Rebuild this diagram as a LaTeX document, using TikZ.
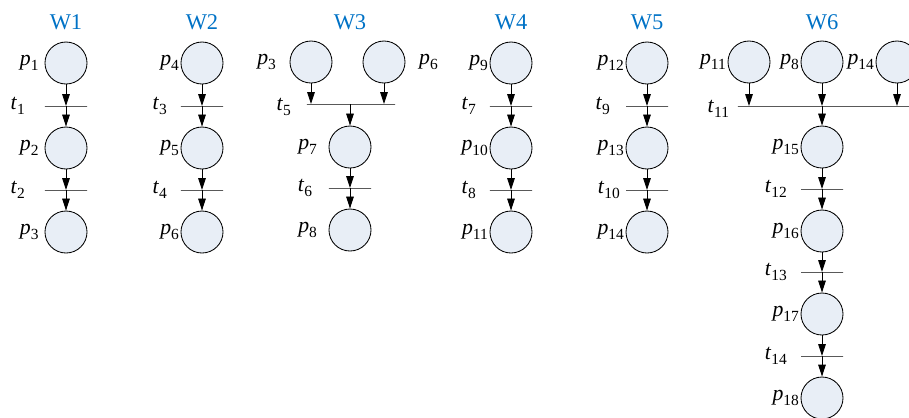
\documentclass[tikz,border=0pt]{standalone}
\usepackage{fontspec}
\setmainfont{Liberation Serif}
\usetikzlibrary{arrows.meta}
\definecolor{placefill}{RGB}{232,238,246}
\definecolor{titleblue}{RGB}{0,114,198}
\newcommand{\plabel}[2]{\textit{#1}\raisebox{-0.45ex}{\fontsize{11}{12}\selectfont #2}}
\tikzset{
	place/.style={circle, draw, fill=placefill, minimum size=1.05cm, inner sep=0pt, line width=0.6pt},
	bar/.style={draw, rectangle, minimum height=0pt, minimum width=1.05cm, inner sep=0pt, line width=0.6pt},
	flow/.style={-{Triangle[length=0.3cm, width=0.19cm]}, line width=0.6pt},
	wtitle/.style={text=titleblue, font=\fontsize{16}{18}\selectfont},
	every label/.style={font=\fontsize{15.5}{17}\selectfont, inner sep=1pt},
}

\begin{document}
\begin{tikzpicture}[x=0.025cm, y=-0.025cm]
			%%%%% START %%%%%
			\useasboundingbox (0,0) rectangle (909,417);
			
			% W1
			\node[wtitle] (w1) at (66,22) {W1};
			\node[place, label={[label distance=0.11cm]left:\plabel{p}{1}}] (p1) at (66,63) {};
			\node[bar, label={[label distance=0.45cm]left:\plabel{t}{1}}] (t1) at (66,106) {};
			\node[place, label={[label distance=0.11cm]left:\plabel{p}{2}}] (p2) at (66,148) {};
			\node[bar, label={[label distance=0.45cm]left:\plabel{t}{2}}] (t2) at (66,190) {};
			\node[place, label={[label distance=0.11cm]left:\plabel{p}{3}}] (p3) at (66,232) {};
			\draw[flow] (p1) -- (p1 |- t1);
			\draw[flow] (t1) -- (p2);
			\draw[flow] (p2) -- (p2 |- t2);
			\draw[flow] (t2) -- (p3);
			
			% W2
			\node[wtitle] (w2) at (202,22) {W2};
			\node[place, label={left:\plabel{p}{4}}] (p4) at (202,63) {};
			\node[bar, label={[label distance=0.3cm]left:\plabel{t}{3}}] (t3) at (202,106) {};
			\node[place, label={left:\plabel{p}{5}}] (p5) at (202,148) {};
			\node[bar, label={[label distance=0.3cm]left:\plabel{t}{4}}] (t4) at (202,190) {};
			\node[place, label={left:\plabel{p}{6}}] (p6) at (202,232) {};
			\draw[flow] (p4) -- (p4 |- t3);
			\draw[flow] (t3) -- (p5);
			\draw[flow] (p5) -- (p5 |- t4);
			\draw[flow] (t4) -- (p6);
			
			% W3
			\node[wtitle] (w3) at (350,22) {W3};
			\node[place, label={[label distance=0.3cm]left:\plabel{p}{3}}] (p3b) at (311,62) {};
			\node[place, label={[label distance=0.3cm]right:\plabel{p}{6}}] (p6b) at (384,62) {};
			\node[bar, minimum width=2.2cm, label={[label distance=0.35cm, yshift=-2pt]left:\plabel{t}{5}}] (t5) at (351,104) {};
			\node[place, label={[label distance=0.25cm]left:\plabel{p}{7}}] (p7) at (350,147) {};
			\node[bar, label={[label distance=0.37cm]left:\plabel{t}{6}}] (t6) at (350,188) {};
			\node[place, label={[label distance=0.25cm]left:\plabel{p}{8}}] (p8) at (350,230) {};
			\draw[flow] (p3b) -- (p3b |- t5);
			\draw[flow] (p6b) -- (p6b |- t5);
			\draw[flow] (p7 |- t5) -- (p7);
			\draw[flow] (p7) -- (p7 |- t6);
			\draw[flow] (t6) -- (p8);
			
			% W4
			\node[wtitle] (w4) at (511,22) {W4};
			\node[place, label={left:\plabel{p}{9}}] (p9) at (511,63) {};
			\node[bar, label={[label distance=0.3cm]left:\plabel{t}{7}}] (t7) at (511,106) {};
			\node[place, label={left:\plabel{p}{10}}] (p10) at (511,148) {};
			\node[bar, label={[label distance=0.3cm]left:\plabel{t}{8}}] (t8) at (511,190) {};
			\node[place, label={left:\plabel{p}{11}}] (p11) at (511,232) {};
			\draw[flow] (p9) -- (p9 |- t7);
			\draw[flow] (t7) -- (p10);
			\draw[flow] (p10) -- (p10 |- t8);
			\draw[flow] (t8) -- (p11);
			
			% W5
			\node[wtitle] (w5) at (647,22) {W5};
			\node[place, label={left:\plabel{p}{12}}] (p12) at (647,63) {};
			\node[bar, label={[label distance=0.35cm]left:\plabel{t}{9}}] (t9) at (647,106) {};
			\node[place, label={left:\plabel{p}{13}}] (p13) at (647,148) {};
			\node[bar, label={[label distance=0.1cm]left:\plabel{t}{10}}] (t10) at (647,190) {};
			\node[place, label={left:\plabel{p}{14}}] (p14) at (647,232) {};
			\draw[flow] (p12) -- (p12 |- t9);
			\draw[flow] (t9) -- (p13);
			\draw[flow] (p13) -- (p13 |- t10);
			\draw[flow] (t10) -- (p14);
			
			% W6
			\node[wtitle] (w6) at (822,22) {W6};
			\node[place, label={left:\plabel{p}{11}}] (p11b) at (749,62) {};
			\node[place, label={left:\plabel{p}{8}}] (p8b) at (822,62) {};
			\node[place, label={left:\plabel{p}{14}}] (p14b) at (897,62) {};
			\node[bar, minimum width=4.425cm, label={[label distance=0.17cm, yshift=-2pt]left:\plabel{t}{11}}] (t11) at (826.5,106) {};
			\node[place, label={left:\plabel{p}{15}}] (p15) at (822,147) {};
			\node[bar, label={[label distance=0.3cm]left:\plabel{t}{12}}] (t12) at (822,189) {};
			\node[place, label={left:\plabel{p}{16}}] (p16) at (822,231) {};
			\node[bar, label={[label distance=0.3cm]left:\plabel{t}{13}}] (t13) at (822,272) {};
			\node[place, label={left:\plabel{p}{17}}] (p17) at (822,314) {};
			\node[bar, label={[label distance=0.3cm]left:\plabel{t}{14}}] (t14) at (822,356) {};
			\node[place, label={left:\plabel{p}{18}}] (p18) at (822,398) {};
			\draw[flow] (p11b) -- (p11b |- t11);
			\draw[flow] (p8b) -- (p8b |- t11);
			\draw[flow] (p14b) -- (p14b |- t11);
			\draw[flow] (p15 |- t11) -- (p15);
			\draw[flow] (p15) -- (p15 |- t12);
			\draw[flow] (t12) -- (p16);
			\draw[flow] (p16) -- (p16 |- t13);
			\draw[flow] (t13) -- (p17);
			\draw[flow] (p17) -- (p17 |- t14);
			\draw[flow] (t14) -- (p18);
			
			%%%%% END %%%%%
\end{tikzpicture}
\end{document}
